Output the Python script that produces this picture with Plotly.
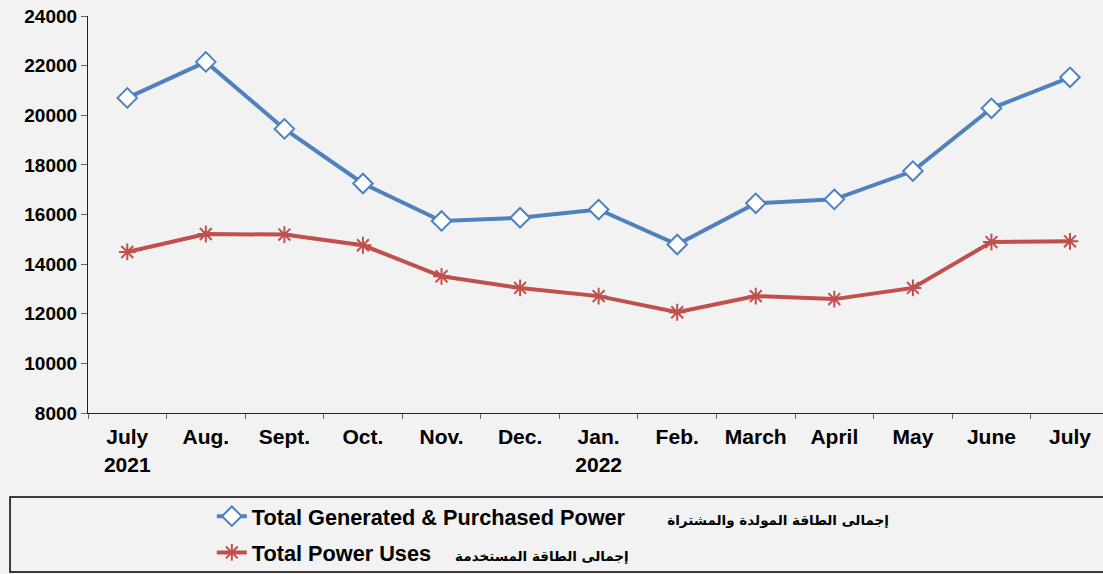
import plotly.graph_objects as go

categories = ["July<br>2021", "Aug.", "Sept.", "Oct.", "Nov.", "Dec.", "Jan.<br>2022",
              "Feb.", "March", "April", "May", "June", "July"]
generated = [20700, 22150, 19450, 17250, 15740, 15870, 16200, 14790, 16450, 16610, 17750, 20280, 21530]
uses = [14490, 15215, 15190, 14760, 13510, 13040, 12710, 12060, 12710, 12590, 13040, 14890, 14920]
label_gen_en = "Total Generated & Purchased Power"
label_gen_ar = "إجمالى الطاقة المولدة والمشتراة"
label_use_en = "Total Power Uses"
label_use_ar = "إجمالى الطاقة المستخدمة"
y_ticks = [8000, 10000, 12000, 14000, 16000, 18000, 20000, 22000, 24000]
y_ticktext = [str(v) for v in y_ticks]

BLUE = "#4F81BD"
RED = "#C0504D"
FONT = "Liberation Sans, DejaVu Sans, Arial, sans-serif"
AR = '<span style="font-family:DejaVu Sans;font-size:13.5px">%s</span>'
NB = "\u00a0"

name_gen = label_gen_en + NB * 7 + AR % label_gen_ar
name_use = label_use_en + NB * 4 + AR % label_use_ar

fig = go.Figure()
fig.add_trace(go.Scatter(
    x=categories, y=generated, name=name_gen, mode="lines+markers", legendgroup="a",
    line=dict(color=BLUE, width=4),
    marker=dict(symbol="diamond", size=15, color="white", line=dict(color=BLUE, width=2)),
))
fig.add_trace(go.Scatter(
    x=categories, y=uses, name=name_use, mode="lines+markers", legendgroup="b",
    line=dict(color=RED, width=4),
    marker=dict(symbol="asterisk-open", size=14, color=RED, line=dict(color=RED, width=2)),
))

fig.update_layout(
    width=1103, height=574,
    paper_bgcolor="#f2f2f2", plot_bgcolor="#f2f2f2",
    margin=dict(l=88, r=0, t=16, b=161, autoexpand=False),
    font=dict(family=FONT, size=19, color="black"),
    showlegend=True,
    legend=dict(
        x=0.122, y=-0.208, xanchor="left", yanchor="top",
        orientation="v", traceorder="grouped", tracegroupgap=5,
        bgcolor="rgba(0,0,0,0)",
        font=dict(family=FONT, size=21.7, color="black", weight="bold"),
    ),
    xaxis=dict(
        type="category", categoryorder="array", categoryarray=categories,
        range=[-0.5, 12.42], showgrid=False, zeroline=False,
        showline=True, linecolor="#222", linewidth=1.2,
        ticks="outside", tickson="boundaries", ticklen=5, tickcolor="#666",
        ticklabelstandoff=5,
        tickfont=dict(family=FONT, size=21, weight="bold"),
    ),
    yaxis=dict(
        range=[8000, 24000], tickmode="array", tickvals=y_ticks, ticktext=y_ticktext,
        showgrid=False, zeroline=False,
        showline=True, linecolor="#222", linewidth=1.2,
        ticks="outside", ticklen=6, tickcolor="#666",
        tickfont=dict(family=FONT, size=19, weight="bold"),
    ),
    shapes=[dict(type="rect", xref="paper", yref="paper",
                 x0=-0.0768, x1=1.01, y0=-0.4005, y1=-0.2116,
                 line=dict(color="black", width=1.5), fillcolor="rgba(0,0,0,0)")],
)

fig.write_html("out.html", config={"displayModeBar": False},
               post_script="document.body.style.margin='0';document.body.style.background='#f2f2f2';")
